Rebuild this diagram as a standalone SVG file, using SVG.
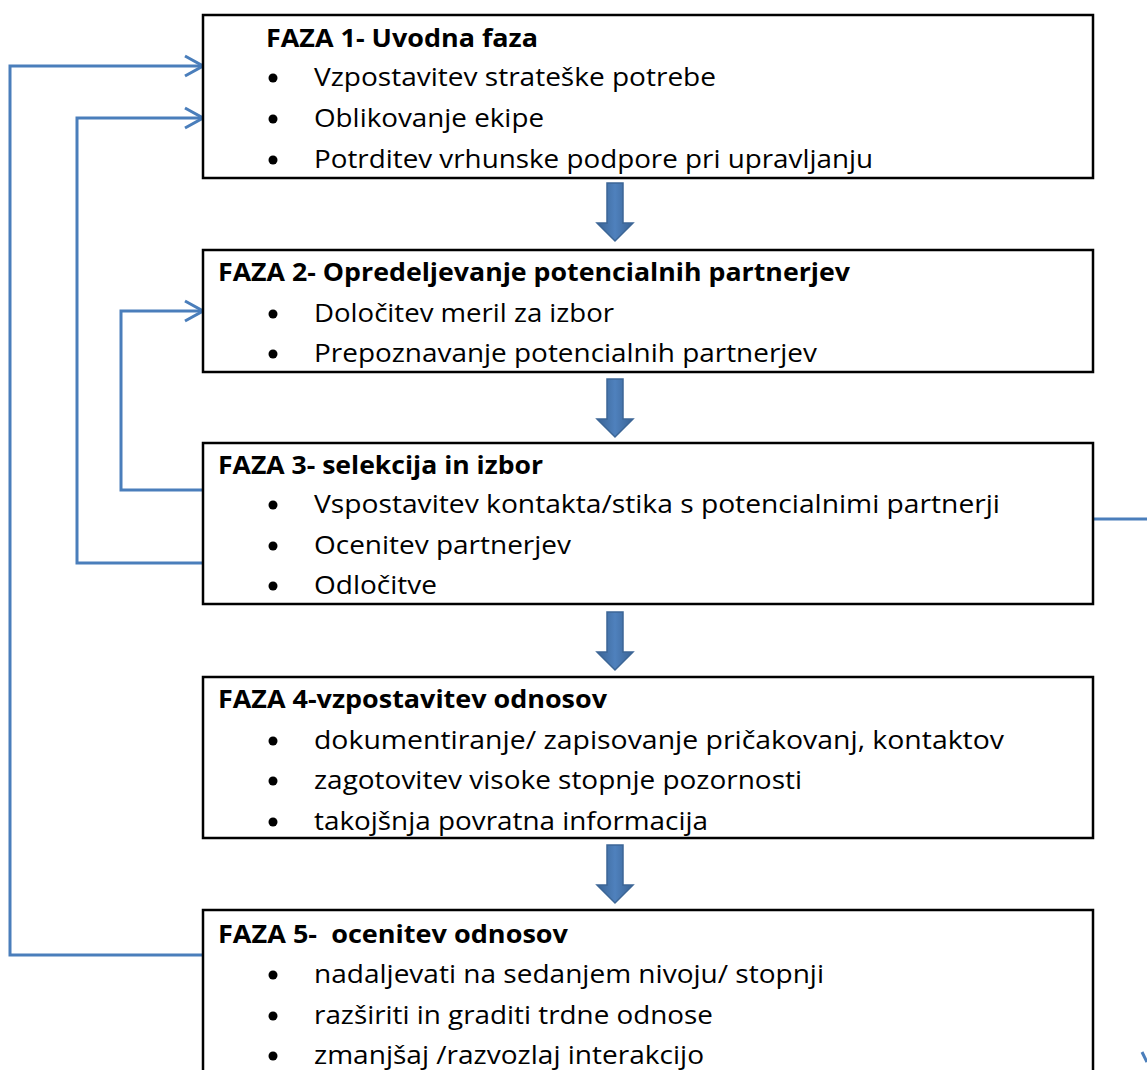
<svg xmlns="http://www.w3.org/2000/svg" width="1147" height="1070" viewBox="0 0 1147 1070">
<defs>
<style>
.box{fill:#fff;stroke:#000;stroke-width:2.5}
.t{font-family:"Open Sans","Liberation Sans",Arial,sans-serif;font-size:25px;fill:#000}
.b{font-weight:bold}
.dot{fill:#000}
.con{fill:none;stroke:#4a7ebb;stroke-width:3}
.blk{fill:url(#g);stroke:#3c6696;stroke-width:1.5}
</style>
<linearGradient id="g" x1="0" y1="0" x2="1" y2="0">
<stop offset="0" stop-color="#3a6394"/>
<stop offset="0.5" stop-color="#4f81bd"/>
<stop offset="1" stop-color="#3a6394"/>
</linearGradient>
<marker id="ah" viewBox="0 0 20 24" refX="19" refY="12" markerWidth="20" markerHeight="24" markerUnits="userSpaceOnUse" orient="auto">
<path d="M1,2 L19,12 L1,22" fill="none" stroke="#4a7ebb" stroke-width="3"/>
</marker>
<path id="down" d="M-8,0 H8 V40 H18 L0,58 L-18,40 H-8 Z"/>
</defs>

<g id="connectors">
<polyline class="con" points="203,955 10,955 10,66 203,66" marker-end="url(#ah)"/>
<polyline class="con" points="203,563 77,563 77,118 203,118" marker-end="url(#ah)"/>
<polyline class="con" points="203,490 121,490 121,311 203,311" marker-end="url(#ah)"/>
<line class="con" x1="1093" y1="519" x2="1147" y2="519"/>
<line class="con" x1="1142" y1="1052" x2="1147" y2="1062"/>
<use href="#down" class="blk" x="615" y="183"/>
<use href="#down" class="blk" x="615" y="379"/>
<use href="#down" class="blk" x="615" y="612"/>
<use href="#down" class="blk" x="615" y="845"/>
</g>

<g id="faza1">
<rect class="box" x="203" y="15" width="890" height="163"/>
<text class="t b" x="266" y="47" textLength="272" lengthAdjust="spacingAndGlyphs">FAZA 1- Uvodna faza</text>
<circle class="dot" cx="273" cy="78" r="4.5"/><text class="t" x="314" y="86" textLength="402" lengthAdjust="spacingAndGlyphs">Vzpostavitev strateške potrebe</text>
<circle class="dot" cx="273" cy="119" r="4.5"/><text class="t" x="314" y="127" textLength="230" lengthAdjust="spacingAndGlyphs">Oblikovanje ekipe</text>
<circle class="dot" cx="273" cy="160" r="4.5"/><text class="t" x="314" y="168" textLength="559" lengthAdjust="spacingAndGlyphs">Potrditev vrhunske podpore pri upravljanju</text>
</g>

<g id="faza2">
<rect class="box" x="203" y="250" width="890" height="122"/>
<text class="t b" x="218" y="281" textLength="632" lengthAdjust="spacingAndGlyphs">FAZA 2- Opredeljevanje potencialnih partnerjev</text>
<circle class="dot" cx="273" cy="314" r="4.5"/><text class="t" x="314" y="322" textLength="300" lengthAdjust="spacingAndGlyphs">Določitev meril za izbor</text>
<circle class="dot" cx="273" cy="354" r="4.5"/><text class="t" x="314" y="362" textLength="503" lengthAdjust="spacingAndGlyphs">Prepoznavanje potencialnih partnerjev</text>
</g>

<g id="faza3">
<rect class="box" x="203" y="443" width="890" height="161"/>
<text class="t b" x="218" y="474" textLength="325" lengthAdjust="spacingAndGlyphs">FAZA 3- selekcija in izbor</text>
<circle class="dot" cx="273" cy="505" r="4.5"/><text class="t" x="314" y="513" textLength="686" lengthAdjust="spacingAndGlyphs">Vspostavitev kontakta/stika s potencialnimi partnerji</text>
<circle class="dot" cx="273" cy="546" r="4.5"/><text class="t" x="314" y="554" textLength="257" lengthAdjust="spacingAndGlyphs">Ocenitev partnerjev</text>
<circle class="dot" cx="273" cy="586" r="4.5"/><text class="t" x="314" y="594" textLength="123" lengthAdjust="spacingAndGlyphs">Odločitve</text>
</g>

<g id="faza4">
<rect class="box" x="203" y="677" width="890" height="161"/>
<text class="t b" x="218" y="708" textLength="389" lengthAdjust="spacingAndGlyphs">FAZA 4-vzpostavitev odnosov</text>
<circle class="dot" cx="273" cy="741" r="4.5"/><text class="t" x="314" y="749" textLength="690" lengthAdjust="spacingAndGlyphs">dokumentiranje/ zapisovanje pričakovanj, kontaktov</text>
<circle class="dot" cx="273" cy="781" r="4.5"/><text class="t" x="314" y="789" textLength="488" lengthAdjust="spacingAndGlyphs">zagotovitev visoke stopnje pozornosti</text>
<circle class="dot" cx="273" cy="822" r="4.5"/><text class="t" x="314" y="830" textLength="394" lengthAdjust="spacingAndGlyphs">takojšnja povratna informacija</text>
</g>

<g id="faza5">
<rect class="box" x="203" y="910" width="890" height="170"/>
<text class="t b" x="218" y="943" textLength="350" lengthAdjust="spacingAndGlyphs" xml:space="preserve">FAZA 5-  ocenitev odnosov</text>
<circle class="dot" cx="273" cy="975" r="4.5"/><text class="t" x="314" y="983" textLength="510" lengthAdjust="spacingAndGlyphs">nadaljevati na sedanjem nivoju/ stopnji</text>
<circle class="dot" cx="273" cy="1016" r="4.5"/><text class="t" x="314" y="1024" textLength="399" lengthAdjust="spacingAndGlyphs">razširiti in graditi trdne odnose</text>
<circle class="dot" cx="273" cy="1056" r="4.5"/><text class="t" x="314" y="1064" textLength="390" lengthAdjust="spacingAndGlyphs">zmanjšaj /razvozlaj interakcijo</text>
</g>
</svg>
